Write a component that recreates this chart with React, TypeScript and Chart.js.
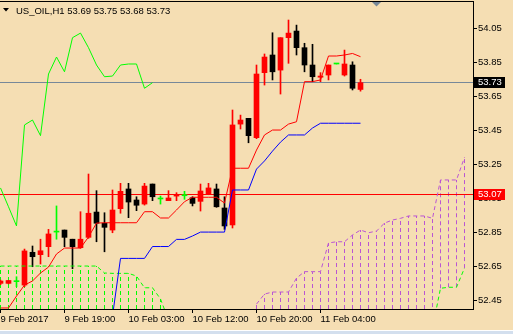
import React, { useEffect, useRef } from "react";
import { Chart, registerables } from "chart.js";

Chart.register(...registerables);

// ---------- data ----------
const SYMBOL = "US_OIL";
const TIMEFRAME = "H1";

// hourly bars, index 0 = 9 Feb 11:00
const OPEN = [52.548, 52.548, 52.558, 52.538, 52.731, 52.717, 52.764, 52.85, 52.862, 52.808, 52.758, 52.819, 52.968, 52.902, 52.862, 52.988, 53.104, 53.039, 53.015, 53.133, 53.045, 53.035, 53.062, 53.064, 53.052, 53.031, 53.076, 53.104, 52.992, 52.892, 53.486, 53.52, 53.406, 53.789, 53.893, 53.804, 53.995, 54.034, 53.936, 53.834, 53.762, 53.775, 53.84, 53.775, 53.834, 53.69];
const HIGH = [52.568, 52.565, 52.587, 52.75, 52.768, 52.808, 52.866, 53.004, 52.862, 52.808, 52.97, 53.192, 53.094, 52.964, 53.098, 53.137, 53.137, 53.058, 53.137, 53.133, 53.062, 53.094, 53.082, 53.09, 53.058, 53.133, 53.137, 53.133, 53.058, 53.569, 53.539, 53.52, 53.834, 53.899, 54.024, 53.995, 54.099, 54.069, 53.962, 53.956, 53.789, 53.834, 53.84, 53.922, 53.853, 53.75];
const LOW = [52.54, 52.545, 52.528, 52.528, 52.646, 52.662, 52.705, 52.808, 52.764, 52.634, 52.754, 52.813, 52.793, 52.734, 52.846, 52.961, 52.935, 52.976, 53.009, 53.035, 53.015, 53.035, 53.035, 53.043, 53.004, 52.974, 53.07, 52.996, 52.866, 52.874, 53.457, 53.376, 53.4, 53.716, 53.746, 53.663, 53.844, 53.893, 53.794, 53.736, 53.736, 53.746, 53.84, 53.769, 53.687, 53.68];
const CLOSE = [52.562, 52.565, 52.558, 52.739, 52.705, 52.74, 52.839, 52.85, 52.819, 52.764, 52.808, 52.961, 52.902, 52.878, 52.98, 53.09, 53.027, 53.008, 53.121, 53.058, 53.045, 53.051, 53.066, 53.064, 53.019, 53.092, 53.11, 52.999, 52.886, 53.481, 53.51, 53.418, 53.781, 53.881, 53.794, 53.995, 54.022, 53.936, 53.834, 53.765, 53.769, 53.834, 53.84, 53.84, 53.697, 53.73];

// Ichimoku lines (null = not visible / below the chart)
const TENKAN = [52.403, 52.403, 52.473, 52.538, 52.562, 52.609, 52.644, 52.721, 52.756, 52.756, 52.756, 52.821, 52.903, 52.905, 52.905, 52.905, 52.905, 52.905, 52.97, 52.97, 52.933, 52.933, 52.98, 53.029, 53.055, 53.055, 53.055, 53.055, 53.021, 53.226, 53.226, 53.226, 53.333, 53.422, 53.451, 53.451, 53.486, 53.5, 53.736, 53.736, 53.746, 53.887, 53.887, 53.893, 53.902, 53.883];
const KIJUN = [null, null, null, null, null, null, null, null, null, null, null, null, null, null, 52.356, 52.695, 52.695, 52.695, 52.695, 52.765, 52.765, 52.765, 52.807, 52.807, 52.827, 52.85, 52.85, 52.85, 52.85, 53.098, 53.098, 53.098, 53.221, 53.269, 53.327, 53.38, 53.422, 53.422, 53.422, 53.463, 53.491, 53.491, 53.491, 53.491, 53.491, 53.491];
const SPAN_A = [52.65, 52.65, 52.65, 52.65, 52.65, 52.65, 52.65, 52.65, 52.65, 52.65, 52.65, 52.65, 52.65, 52.609, 52.607, 52.607, 52.607, 52.591, 52.522, 52.522, 52.456, 52.332, null, null, null, null, null, null, null, null, null, null, null, null, null, null, null, null, null, null, null, null, null, null, null, null, null, null, null, null, null, null, null, null, 52.285, 52.519, 52.525, 52.525, 52.638];
const SPAN_B = [null, null, null, null, null, null, null, null, null, null, null, null, null, null, null, null, null, null, null, null, null, null, null, null, null, null, null, null, null, null, null, null, 52.426, 52.485, 52.497, 52.497, 52.497, 52.579, 52.617, 52.617, 52.617, 52.786, 52.793, 52.793, 52.833, 52.862, 52.846, 52.856, 52.903, 52.921, 52.931, 52.945, 52.945, 52.945, 52.931, 53.157, 53.157, 53.157, 53.29];
const CHIKOU_SHIFT = 26;

const HLINE_LEVEL = 53.07;

const X_TICK_BARS = [0, 8, 16, 24, 32, 40];
const X_TICK_LABELS = ["9 Feb 2017", "9 Feb 19:00", "10 Feb 03:00", "10 Feb 12:00", "10 Feb 20:00", "11 Feb 04:00"];
const Y_TICKS = [52.45, 52.65, 52.85, 53.05, 53.25, 53.45, 53.65, 53.85, 54.05];

const Y_MIN = 52.397;
const Y_MAX = 54.211;
const X_MIN = -0.0625;
const X_MAX = 59.0625;

// ---------- style ----------
const BG = "#F5DEB3";
const BULL = "#FF0000";
const BEAR = "#000000";
const DOJI = "#00FF00";
const UP_KUMO = "#00FF00";
const DOWN_KUMO = "#BA55D3";
const FONT_FAMILY = "'Liberation Sans', Arial, sans-serif";
const FONT = { family: FONT_FAMILY, size: 9.5 };

export default function App() {
  const ref = useRef<HTMLCanvasElement>(null);

  useEffect(() => {
    document.body.style.margin = "0";
    const canvas = ref.current!;
    const bars = OPEN.map((_, i) => i);
    const candleColor = bars.map((i) =>
      CLOSE[i] > OPEN[i] ? BULL : CLOSE[i] < OPEN[i] ? BEAR : DOJI
    );
    const last = CLOSE.length - 1;

    const overlayPlugin = {
      id: "overlay",
      beforeDatasetsDraw(chart: any) {
        const { ctx, chartArea: ca, scales } = chart;
        const xs = scales.x;
        const ys = scales.y;
        ctx.save();
        ctx.beginPath();
        ctx.rect(ca.left, ca.top, ca.right - ca.left, ca.bottom - ca.top);
        ctx.clip();
        // kumo: dashed verticals between the spans (missing value = beyond the bottom)
        ctx.lineWidth = 1;
        ctx.setLineDash([4, 3]);
        for (let i = 0; i < SPAN_A.length; i++) {
          const a = SPAN_A[i];
          const b = SPAN_B[i];
          if (a == null && b == null) continue;
          const up = b == null || (a != null && a >= b);
          const ya = a == null ? ca.bottom : ys.getPixelForValue(a);
          const yb = b == null ? ca.bottom : ys.getPixelForValue(b);
          const px = Math.floor(xs.getPixelForValue(i)) + 0.5;
          ctx.strokeStyle = up ? UP_KUMO : DOWN_KUMO;
          ctx.beginPath();
          ctx.moveTo(px, Math.max(ya, yb));
          ctx.lineTo(px, Math.min(ya, yb));
          ctx.stroke();
        }
        ctx.setLineDash([]);
        // horizontal lines
        const hl = (v: number, color: string) => {
          const py = Math.floor(ys.getPixelForValue(v)) + 0.5;
          ctx.strokeStyle = color;
          ctx.beginPath();
          ctx.moveTo(ca.left, py);
          ctx.lineTo(ca.right, py);
          ctx.stroke();
        };
        hl(CLOSE[last], "#778899");
        hl(HLINE_LEVEL, "#FF0000");
        ctx.restore();
      },
      afterDraw(chart: any) {
        const { ctx, chartArea: ca, scales } = chart;
        const ys = scales.y;
        const xs = scales.x;
        ctx.save();
        // top border
        ctx.strokeStyle = "#000";
        ctx.lineWidth = 1;
        ctx.beginPath();
        ctx.moveTo(ca.left, ca.top + 0.5);
        ctx.lineTo(ca.right + 1, ca.top + 0.5);
        ctx.stroke();
        // chart shift marker
        const sx = Math.floor(xs.getPixelForValue(last + 2)) + 0.5;
        ctx.fillStyle = "#778899";
        ctx.beginPath();
        ctx.moveTo(sx - 4.5, ca.top + 1);
        ctx.lineTo(sx + 4.5, ca.top + 1);
        ctx.lineTo(sx, ca.top + 5.5);
        ctx.closePath();
        ctx.fill();
        // title
        ctx.fillStyle = "#000";
        ctx.beginPath();
        ctx.moveTo(3, 8);
        ctx.lineTo(9, 8);
        ctx.lineTo(6, 11.5);
        ctx.closePath();
        ctx.fill();
        ctx.font = `9.5px ${FONT_FAMILY}`;
        ctx.textBaseline = "alphabetic";
        ctx.textAlign = "left";
        const title = `${SYMBOL},${TIMEFRAME} ${OPEN[last].toFixed(2)} ${HIGH[last].toFixed(2)} ${LOW[last].toFixed(2)} ${CLOSE[last].toFixed(2)}`;
        ctx.fillText(title, 16, 13.5);
        // price labels
        const box = (v: number, bg: string) => {
          const py = Math.floor(ys.getPixelForValue(v));
          ctx.fillStyle = bg;
          ctx.fillRect(ca.right + 1, py - 5, 31, 11);
          ctx.fillStyle = "#FFFFFF";
          ctx.textBaseline = "middle";
          ctx.fillText(v.toFixed(2), ca.right + 5, py + 0.5);
        };
        box(CLOSE[last], "#000000");
        box(HLINE_LEVEL, "#FF0000");
        ctx.restore();
      },
    };

    const line = (label: string, data: any[], color: string, order: number, dash?: number[]) => ({
      type: "line" as const,
      label,
      data,
      borderColor: color,
      borderWidth: 1,
      borderDash: dash || [],
      pointRadius: 0,
      fill: false,
      tension: 0,
      spanGaps: false,
      order,
    });

    const chart = new Chart(canvas, {
      type: "bar",
      data: {
        datasets: [
          line("Tenkan-sen", TENKAN.map((v, i) => ({ x: i, y: v })), "#FF0000", 0),
          line("Kijun-sen", KIJUN.map((v, i) => ({ x: i, y: v })), "#0000FF", 1),
          line(
            "Chikou Span",
            CLOSE.slice(CHIKOU_SHIFT).map((v, i) => ({ x: i, y: v })),
            "#00FF00",
            2
          ),
          line("Senkou Span A", SPAN_A.map((v, i) => ({ x: i, y: v })), UP_KUMO, 3, [4, 3]),
          line("Senkou Span B", SPAN_B.map((v, i) => ({ x: i, y: v })), DOWN_KUMO, 4, [4, 3]),
          {
            type: "bar" as const,
            label: "body",
            data: bars.map((i) => ({ x: i, y: [OPEN[i], CLOSE[i]] })) as any,
            backgroundColor: candleColor,
            borderWidth: 0,
            barThickness: 5,
            minBarLength: 1,
            grouped: false,
            order: 5,
          },
          {
            type: "bar" as const,
            label: "wick",
            data: bars.map((i) => ({ x: i, y: [LOW[i], HIGH[i]] })) as any,
            backgroundColor: candleColor,
            borderWidth: 0,
            barThickness: 1,
            grouped: false,
            order: 6,
          },
        ] as any,
      },
      options: {
        animation: false,
        responsive: false,
        devicePixelRatio: 1,
        events: [],
        layout: { padding: { top: 1, left: 0, right: 0, bottom: 0 } },
        plugins: { legend: { display: false }, tooltip: { enabled: false } },
        scales: {
          x: {
            type: "linear",
            min: X_MIN,
            max: X_MAX,
            offset: false,
            afterBuildTicks: (s: any) => {
              s.ticks = X_TICK_BARS.map((v) => ({ value: v }));
            },
            afterFit: (s: any) => {
              s.height = 21;
              s.paddingLeft = 0;
              s.paddingRight = 0;
            },
            ticks: {
              align: "start",
              maxRotation: 0,
              minRotation: 0,
              autoSkip: false,
              padding: 1,
              color: "#000",
              font: FONT,
              callback: (v: any) => {
                const k = X_TICK_BARS.indexOf(Number(v));
                return k >= 0 ? X_TICK_LABELS[k] : "";
              },
            },
            grid: { drawOnChartArea: false, drawTicks: true, tickLength: 4, color: "#000", offset: false },
            border: { display: true, color: "#000" },
          },
          y: {
            type: "linear",
            position: "right",
            min: Y_MIN,
            max: Y_MAX,
            afterBuildTicks: (s: any) => {
              s.ticks = Y_TICKS.map((v) => ({ value: v }));
            },
            afterFit: (s: any) => {
              s.width = 40;
              s.paddingTop = 0;
              s.paddingBottom = 0;
            },
            ticks: {
              padding: 1,
              color: "#000",
              font: FONT,
              callback: (v: any) => Number(v).toFixed(2),
            },
            grid: { drawOnChartArea: false, drawTicks: true, tickLength: 4, color: "#000" },
            border: { display: true, color: "#000" },
          },
        },
      } as any,
      plugins: [overlayPlugin],
    });
    return () => chart.destroy();
  }, []);

  return (
    <div style={{ width: 513, height: 334, background: BG, overflow: "hidden" }}>
      <canvas ref={ref} width={513} height={330} style={{ display: "block" }} />
      <div style={{ height: 4, background: "#d3dfee", borderTop: "1px solid #ffffff", boxSizing: "border-box" }} />
    </div>
  );
}
